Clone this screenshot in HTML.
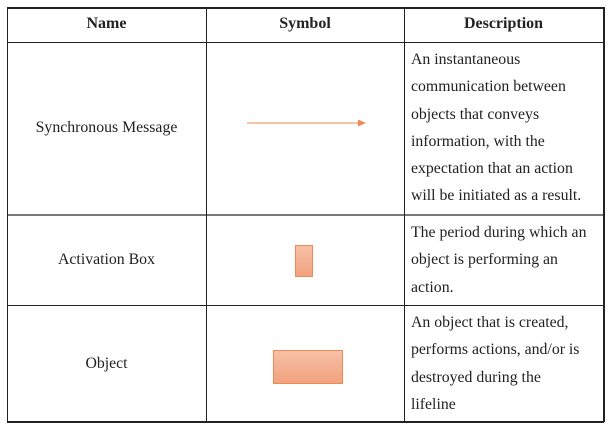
<!DOCTYPE html>
<html><head><style>
body{margin:0;width:611px;height:429px;background:#fff;font-family:"Liberation Serif",serif;color:#222;position:relative;overflow:hidden}
.l{position:absolute;background:#222}
.t{position:absolute;font-size:15.8px;white-space:nowrap}
.h{font-weight:bold;font-size:16px}
.d{position:absolute;left:411px;font-size:15.8px;line-height:27.3px;white-space:nowrap}
.box{position:absolute;background:linear-gradient(#f6c0a6,#f2a27e);border:1.5px solid #ef8a55;box-sizing:border-box}
</style></head><body>
<div class="l" style="left:7px;top:7px;width:597px;height:1.5px"></div>
<div class="l" style="left:7px;top:42px;width:597px;height:1px"></div>
<div class="l" style="left:7px;top:214px;width:597px;height:2px;background:#777"></div>
<div class="l" style="left:7px;top:305px;width:597px;height:1px"></div>
<div class="l" style="left:7px;top:421px;width:597px;height:1.5px"></div>
<div class="l" style="left:7px;top:7px;width:1px;height:415px"></div>
<div class="l" style="left:206px;top:7px;width:1px;height:415px"></div>
<div class="l" style="left:404px;top:7px;width:1px;height:415px"></div>
<div class="l" style="left:603px;top:7px;width:1.5px;height:415px"></div>

<div class="t h" style="left:7px;width:199px;text-align:center;top:15px">Name</div>
<div class="t h" style="left:206px;width:198px;text-align:center;top:15px">Symbol</div>
<div class="t h" style="left:404px;width:199px;text-align:center;top:15px">Description</div>

<div class="t" style="left:7px;width:199px;text-align:center;top:119px">Synchronous Message</div>
<div class="t" style="left:7px;width:199px;text-align:center;top:251px">Activation Box</div>
<div class="t" style="left:7px;width:199px;text-align:center;top:355px">Object</div>

<svg style="position:absolute;left:0;top:0" width="611" height="429">
<line x1="247" y1="123" x2="360" y2="123" stroke="#f4a074" stroke-width="1.2"/>
<polygon points="358,119.5 366,123 358,126.5" fill="#ef8a55"/>
</svg>
<div class="box" style="left:295px;top:245px;width:18px;height:32px"></div>
<div class="box" style="left:273px;top:350px;width:70px;height:34px"></div>

<div class="d" style="top:46px">An instantaneous<br>communication between<br>objects that conveys<br>information, with the<br>expectation that an action<br>will be initiated as a result.</div>
<div class="d" style="top:219px">The period during which an<br>object is performing an<br>action.</div>
<div class="d" style="top:309px">An object that is created,<br>performs actions, and/or is<br>destroyed during the<br>lifeline</div>
</body></html>
